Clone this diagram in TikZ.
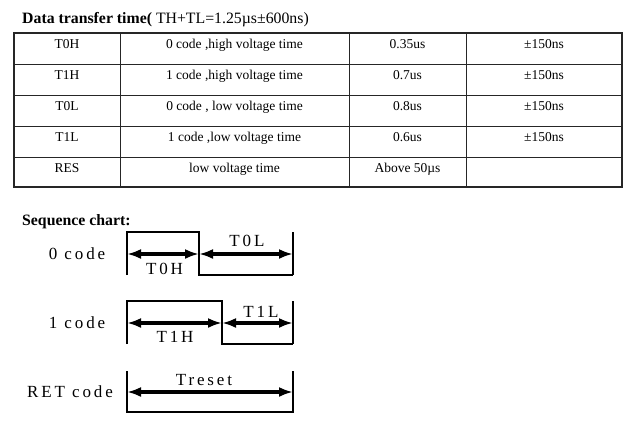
\documentclass[tikz,border=0pt]{standalone}
\usepackage{fontspec}
\setmainfont{Liberation Serif}
\newfontfamily\wavefont[LetterSpace=17]{Liberation Serif}
\usetikzlibrary{arrows.meta,positioning,calc}

\begin{document}
\begin{tikzpicture}[x=1pt,y=-1pt]

\tikzset{cell/.style={font=\fontsize{13.5}{15}\selectfont,anchor=base,inner sep=0pt},
heading/.style={font=\fontsize{15.8}{17}\selectfont,anchor=base west,inner sep=0pt},
grid/.style={line width=1pt,draw=black!85},
wave/.style={line width=1.6pt},
timespan/.style={line width=3.2pt,>={Latex[length=14pt,width=10pt]},<->},
wavelabel/.style={font=\wavefont\fontsize{17}{19}\selectfont,inner sep=0pt}}

\useasboundingbox (0,0) rectangle (637,429);

% Title
\node[heading] (title) at (22,23) {\textbf{Data transfer time(} TH+TL=1.25µs±600ns)};

% Table frame
\draw[grid,line width=1.3pt] (14,33) rectangle (622,187);
\foreach \y in {64,95,126,157} \draw[grid] (14,\y) -- (622,\y); % row lines
\foreach \x in {120,349,466} \draw[grid] (\x,33) -- (\x,187); % column lines

% Table rows
\foreach \name/\desc/\val/\tol [count=\i] in {T0H/{0 code ,high voltage time}/0.35us/±150ns,
  T1H/{1 code ,high voltage time}/0.7us/±150ns,
  T0L/{0 code , low voltage time}/0.8us/±150ns,
  T1L/{1 code ,low voltage time}/0.6us/±150ns,
  RES/{low voltage time}/{Above 50µs}/{}}
{
  \node[cell] (name\i) at (67,{18+30.8*\i}) {\name};
  \node[cell] (desc\i) at (234.5,{18+30.8*\i}) {\desc};
  \node[cell] (val\i) at (407.5,{18+30.8*\i}) {\val};
  \node[cell] (tol\i) at (544,{18+30.8*\i}) {\tol};
}

% Sequence chart
\node[heading] (seqtitle) at (22,225) {\textbf{Sequence chart:}};

% 0 code
\node[wavelabel] (zero) at (77,254) {0 code};
\draw[wave] (127,275) -- (127,232) -- (199,232) -- (199,275) -- (293,275);
\draw[wave] (293,232) -- (293,275);
\coordinate (zeroA) at (127,254);
\coordinate (zeroM) at (199,254);
\coordinate (zeroB) at (293,254);
\draw[timespan] (zeroA) -- (zeroM);
\draw[timespan] (zeroM) -- (zeroB);
\node[wavelabel] (t0h) at (164.5,269) {T0H};
\node[wavelabel] (t0l) at (247,241) {T0L};

% 1 code
\node[wavelabel] (one) at (77,323) {1 code};
\draw[wave] (127,344) -- (127,301) -- (222,301) -- (222,344) -- (293,344);
\draw[wave] (293,301) -- (293,344);
\coordinate (oneA) at (127,323);
\coordinate (oneM) at (222,323);
\coordinate (oneB) at (293,323);
\draw[timespan] (oneA) -- (oneM);
\draw[timespan] (oneM) -- (oneB);
\node[wavelabel] (t1h) at (175,337) {T1H};
\node[wavelabel] (t1l) at (261,312) {T1L};

% RET code
\node[wavelabel] (ret) at (70,392) {RET code};
\draw[wave] (127,371) -- (127,412) -- (293,412) -- (293,371);
\coordinate (retA) at (127,392);
\coordinate (retB) at (293,392);
\draw[timespan] (retA) -- (retB);
\node[wavelabel] (treset) at (204,380) {Treset};

\end{tikzpicture}
\end{document}
